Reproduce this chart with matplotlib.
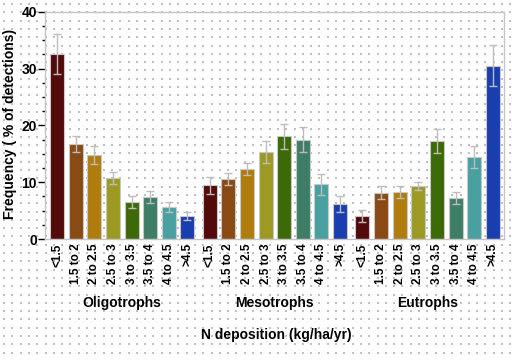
import numpy as np
import matplotlib
matplotlib.use('Agg')
from matplotlib import pyplot as plt
from matplotlib.ticker import MultipleLocator
from matplotlib import transforms

plt.rcParams['font.family'] = ['Liberation Sans', 'DejaVu Sans']

# deposition classes and groups
classes = ['<1.5', '1.5 to 2', '2 to 2.5', '2.5 to 3', '3 to 3.5', '3.5 to 4', '4 to 4.5', '>4.5']
groups = ['Oligotrophs', 'Mesotrophs', 'Eutrophs']

# frequency values (% of detections) and upper error
oligo = [32.6, 16.7, 14.8, 10.7, 6.5, 7.4, 5.6, 4.05]
oligo_err = [3.5, 1.4, 1.6, 1.1, 1.1, 1.0, 0.9, 0.7]
meso = [9.45, 10.6, 12.3, 15.3, 18.1, 17.5, 9.6, 6.2]
meso_err = [1.5, 1.1, 1.0, 1.9, 2.2, 2.2, 1.8, 1.4]
eutro = [4.05, 8.15, 8.3, 9.3, 17.2, 7.2, 14.4, 30.5]
eutro_err = [1.05, 1.15, 1.0, 0.7, 2.1, 1.0, 1.9, 3.6]

colors = ['#520a0a', '#8a4a14', '#b07c0c', '#9c9a22', '#3c6a06', '#3e7e66', '#48a0a0', '#1a3eb0']

fig = plt.figure(figsize=(5.12, 3.6), dpi=100)

# dotted paper background
bg = fig.add_axes([0, 0, 1, 1], zorder=-5)
bg.set_xlim(0, 512)
bg.set_ylim(360, 0)
bg.axis('off')
gx, gy = np.meshgrid(np.arange(4, 512, 8.3), np.arange(4, 360, 8.3))
bg.scatter(gx.ravel(), gy.ravel(), s=0.55, marker='s', color='#c0c0c0', linewidths=0)

ax = fig.add_axes([0.0885, 0.336, 0.8965, 0.6315])
ax.patch.set_alpha(0)

gap = 8.2
pos_all = []
lab_all = []
for g, (vals, errs) in enumerate([(oligo, oligo_err), (meso, meso_err), (eutro, eutro_err)]):
    x = g * gap + np.arange(len(classes))
    ax.bar(x, vals, width=0.75, color=colors, edgecolor='#c8c8c8', linewidth=0.8, zorder=2)
    ax.errorbar(x, vals, yerr=errs, fmt='none', ecolor='#bdbdbd', elinewidth=1,
                capsize=3, capthick=1, zorder=3)
    pos_all += list(x)
    lab_all += classes
    trans = transforms.blended_transform_factory(ax.transData, ax.transAxes)
    ax.text(x.mean(), -0.282, groups[g], transform=trans, ha='center', va='center',
            fontsize=10, fontweight='bold')

ax.set_xlim(-0.63, 24.02)
ax.set_ylim(0, 40)
ax.set_xticks(pos_all)
ax.set_xticklabels(lab_all, rotation=90, fontsize=8.5, fontweight='bold')
ax.tick_params(axis='x', length=0, pad=3)
ax.yaxis.set_major_locator(MultipleLocator(10))
ax.yaxis.set_minor_locator(MultipleLocator(2.5))
ax.tick_params(axis='y', which='major', length=5, width=1, labelsize=10, pad=1)
ax.tick_params(axis='y', which='minor', length=2.5, width=1)
for t in ax.get_yticklabels():
    t.set_fontweight('bold')
for s in ax.spines.values():
    s.set_color('#c4c4c4')
    s.set_linewidth(1)

fig.text(276 / 512, 1 - 335 / 360, 'N deposition (kg/ha/yr)', ha='center', va='center',
         fontsize=10, fontweight='bold')
fig.text(10 / 512, 1 - 124 / 360, 'Frequency ( % of detections)', ha='center', va='center',
         rotation=90, fontsize=10, fontweight='bold')

plt.savefig('out.png', dpi=100)
